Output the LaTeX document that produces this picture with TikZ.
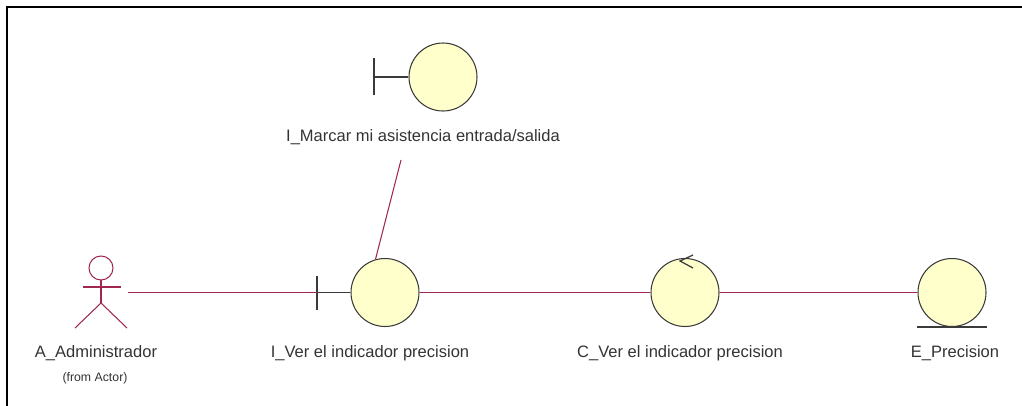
\documentclass[tikz,border=0pt]{standalone}
\usepackage{fontspec}
\setmainfont{Liberation Sans}
\usepackage{tikz}
\usepackage{xcolor}
\usetikzlibrary{arrows.meta,positioning,shapes,calc}
\definecolor{linkred}{HTML}{A0284E}
\definecolor{bodyfill}{HTML}{FFFFCC}
\definecolor{bodyline}{HTML}{3A3A3A}
\definecolor{labelink}{HTML}{333333}
\tikzset{
  robust/.style={circle,draw=bodyline,fill=bodyfill,line width=0.6pt,
                 minimum size=1.36cm,inner sep=0pt},
  assoc/.style={draw=linkred,line width=0.6pt},
  actorline/.style={draw=linkred,line width=0.6pt},
  barline/.style={draw=bodyline,line width=0.7pt},
  rlabel/.style={font=\fontsize{9.4}{11}\selectfont,text=labelink,inner sep=1pt},
  rnote/.style={font=\fontsize{7}{8}\selectfont,text=labelink,inner sep=1pt}
}
\begin{document}
\begin{tikzpicture}[x=1cm,y=1cm]
    \path[use as bounding box] (0,0) rectangle (20.44,8.10);
    \draw[black,line width=1.2pt] (0.14,-0.2) -- (0.14,7.96) -- (20.7,7.96);

    % actor
    \draw[actorline] (2.02,2.74) circle (0.24);
    \draw[actorline] (1.66,2.36) -- (2.42,2.36);
    \draw[actorline] (2.02,2.50) -- (2.02,2.04);
    \draw[actorline] (1.50,1.54) -- (2.02,2.04) -- (2.54,1.54);
    \coordinate (admin) at (2.56,2.25);
    \node[rlabel] (adminlbl) at (1.92,1.04) {A\_Administrador};
    \node[rnote] (adminfrom) at (1.90,0.54) {(from Actor)};

    % boundary: marcar asistencia
    \node[robust] (marcar) at (8.86,6.56) {};
    \coordinate (marcarbar) at (7.48,6.56);
    \draw[barline] (7.48,6.94) -- (7.48,6.20);
    \draw[barline] (marcarbar) -- (marcar.west);
    \node[rlabel] (marcarlbl) at (8.46,5.36) {I\_Marcar mi asistencia entrada/salida};
    \coordinate (marcarend) at (8.02,4.90);

    % boundary: ver indicador
    \node[robust] (ver) at (7.70,2.25) {};
    \coordinate (verbar) at (6.34,2.25);
    \draw[barline] (6.34,2.58) -- (6.34,1.90);
    \draw[barline] (verbar) -- (ver.west);
    \node[rlabel] (verlbl) at (7.40,1.04) {I\_Ver el indicador precision};

    % control
    \node[robust] (ctrl) at (13.70,2.25) {};
    \draw[barline] (13.86,3.00) -- (13.60,2.88) -- (13.86,2.74);
    \node[rlabel] (ctrllbl) at (13.60,1.04) {C\_Ver el indicador precision};

    % entity
    \node[robust] (ent) at (19.04,2.25) {};
    \draw[barline] (18.34,1.56) -- (19.74,1.56);
    \node[rlabel] (entlbl) at (19.10,1.04) {E\_Precision};

    % links
    \draw[assoc] (admin) -- (verbar);
    \draw[assoc] (marcarend) -- (ver.106);
    \draw[assoc] (ver) -- (ctrl);
    \draw[assoc] (ctrl) -- (ent);
  \end{tikzpicture}
\end{document}
